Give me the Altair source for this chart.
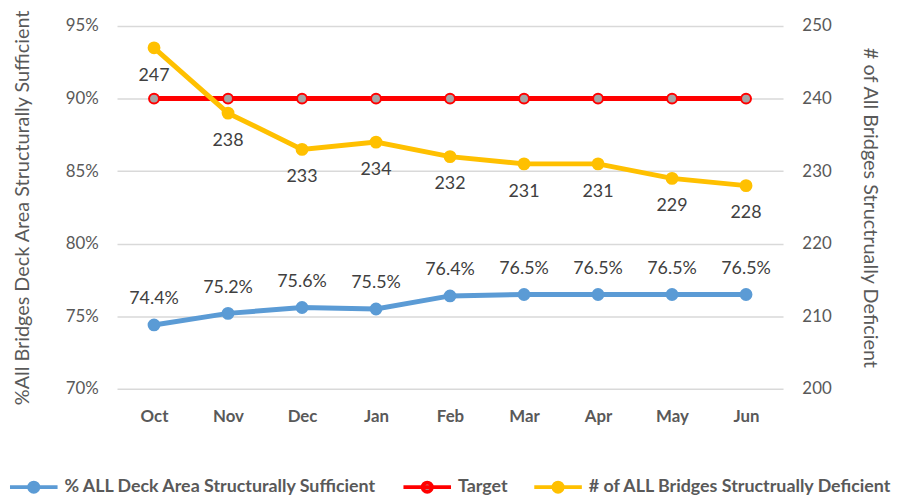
import altair as alt
import pandas as pd

months = ["Oct", "Nov", "Dec", "Jan", "Feb", "Mar", "Apr", "May", "Jun"]
pct_sufficient = [74.4, 75.2, 75.6, 75.5, 76.4, 76.5, 76.5, 76.5, 76.5]
target = [90, 90, 90, 90, 90, 90, 90, 90, 90]
bridges_deficient = [247, 238, 233, 234, 232, 231, 231, 229, 228]

series_names = [
    "% ALL Deck Area Structurally Sufficient",
    "Target",
    "# of ALL Bridges Structrually Deficient",
]
stroke_colors = ["#5B9BD5", "#FF0000", "#FFC000"]
fill_colors = ["#5B9BD5", "#A5A5A5", "#FFC000"]

FONT = "Lato, sans-serif"

rows = []
for s, vals in zip(series_names, [pct_sufficient, target, bridges_deficient]):
    for m, v in zip(months, vals):
        rows.append({"month": m, "series": s, "value": v})
df = pd.DataFrame(rows)

base = alt.Chart(df)

x_enc = alt.X(
    "month:N",
    sort=months,
    scale=alt.Scale(padding=0.5),
    axis=alt.Axis(
        title=None, labelAngle=0, labelFontWeight="bold", labelFontSize=17,
        labelColor="#595959", labelPadding=20, ticks=False, domain=False,
        labelFont=FONT, grid=False,
    ),
)

legend = alt.Legend(
    title=None, orient="none", legendX=-110, legendY=439, direction="horizontal",
    symbolType="M-1,0L1,0M0.19,0A0.19,0.19,0,1,1,-0.19,0A0.19,0.19,0,1,1,0.19,0Z",
    symbolSize=2304, symbolStrokeWidth=4, labelFontSize=18, labelFontWeight="bold",
    labelColor="#595959", labelFont=FONT, columnPadding=18, labelOffset=5,
    labelLimit=0, padding=0,
)
stroke_scale = alt.Scale(domain=series_names, range=stroke_colors)
fill_scale = alt.Scale(domain=series_names, range=fill_colors)

left_y = alt.Y(
    "value:Q",
    scale=alt.Scale(domain=[70, 95]),
    axis=alt.Axis(
        orient="left", values=[70, 75, 80, 85, 90, 95], labelExpr="datum.value + '%'",
        title="%All Bridges Deck Area Structurally Sufficient", titleFontSize=20,
        titleFontWeight="normal", titleColor="#595959", titlePadding=33,
        labelFontSize=17, labelColor="#595959", labelPadding=19, ticks=False,
        domain=False, grid=True, gridColor="#D9D9D9", gridWidth=1.5,
        labelFont=FONT, titleFont=FONT,
    ),
)
right_y = alt.Y(
    "value:Q",
    scale=alt.Scale(domain=[200, 250]),
    axis=alt.Axis(
        orient="right", values=[200, 210, 220, 230, 240, 250],
        title="# of All Bridges Structrually Deficient", titleFontSize=20,
        titleFontWeight="normal", titleColor="#595959", titlePadding=29,
        labelFontSize=17, labelColor="#595959", labelPadding=19, ticks=False,
        domain=False, grid=False, labelFont=FONT, titleFont=FONT,
    ),
)

def sel(name):
    return base.transform_filter(alt.datum.series == name)

blue = sel(series_names[0])
red = sel(series_names[1])
yellow = sel(series_names[2])

blue_line = blue.mark_line(strokeWidth=5, color=stroke_colors[0]).encode(x=x_enc, y=left_y)
blue_pts = blue.mark_point(size=120, filled=True, opacity=1, strokeWidth=2).encode(
    x=x_enc, y=left_y,
    fill=alt.Fill("series:N", scale=fill_scale, legend=legend),
    stroke=alt.Stroke("series:N", scale=stroke_scale, legend=legend),
)
blue_text = blue.transform_calculate(
    lbl="format(datum.value, '.1f') + '%'"
).mark_text(dy=-26, fontSize=18, color="#404040", font=FONT).encode(
    x=x_enc, y=left_y, text="lbl:N"
)

red_line = red.mark_line(strokeWidth=5, color=stroke_colors[1]).encode(x=x_enc, y=left_y)
red_pts = red.mark_point(size=100, filled=True, opacity=1, strokeWidth=2).encode(
    x=x_enc, y=left_y,
    fill=alt.Fill("series:N", scale=fill_scale, legend=legend),
    stroke=alt.Stroke("series:N", scale=stroke_scale, legend=legend),
)

yellow_line = yellow.mark_line(strokeWidth=5, color=stroke_colors[2]).encode(x=x_enc, y=right_y)
yellow_pts = yellow.mark_point(size=120, filled=True, opacity=1, strokeWidth=2).encode(
    x=x_enc, y=right_y,
    fill=alt.Fill("series:N", scale=fill_scale, legend=legend),
    stroke=alt.Stroke("series:N", scale=stroke_scale, legend=legend),
)
yellow_text = yellow.mark_text(dy=28, fontSize=18, color="#404040", font=FONT).encode(
    x=x_enc, y=right_y, text=alt.Text("value:Q", format="d")
)

left = alt.layer(blue_line, blue_pts, blue_text, red_line, red_pts)
right = alt.layer(yellow_line, yellow_pts, yellow_text)

chart = (
    alt.layer(left, right)
    .resolve_scale(y="independent")
    .properties(width=672, height=366, background="white",
                autosize=alt.AutoSizeParams(type="none"),
                padding={"left": 110, "top": 16, "right": 117, "bottom": 110})
    .configure(view=alt.ViewConfig(stroke=None))
)

chart.save("out.html", embed_options={"renderer": "svg", "actions": False})
